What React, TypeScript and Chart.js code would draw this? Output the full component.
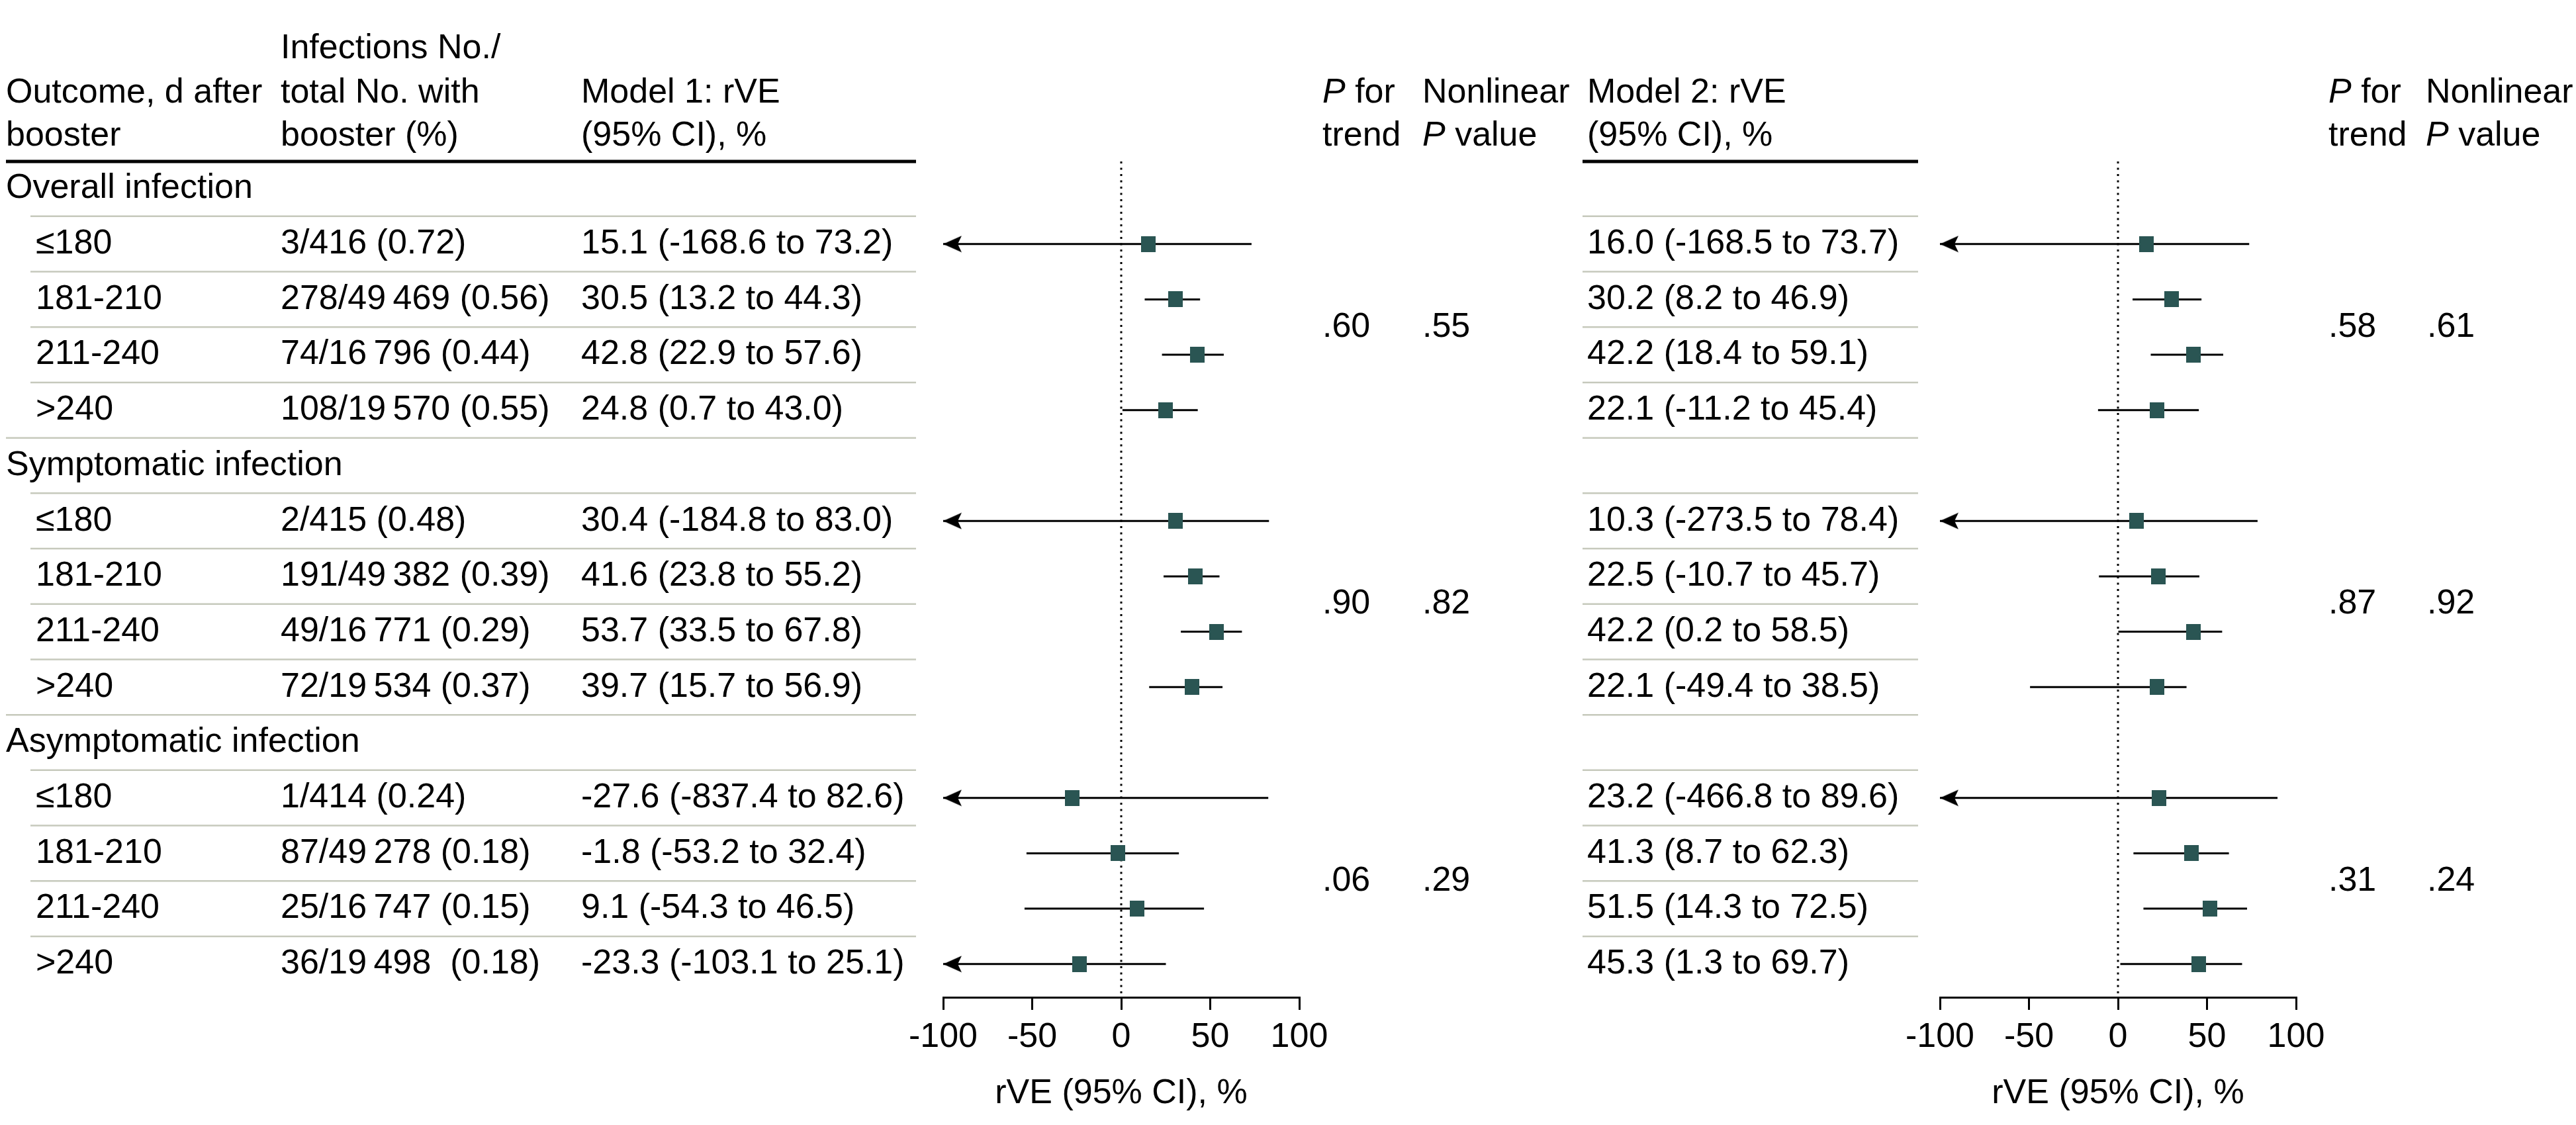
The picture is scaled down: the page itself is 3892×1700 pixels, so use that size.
import React, { useEffect, useRef } from 'react';
import { Chart, registerables } from 'chart.js';

Chart.register(...registerables);

// ---------------- data ----------------
const groups = ['Overall infection', 'Symptomatic infection', 'Asymptomatic infection'];
const periods = ['≤180', '181-210', '211-240', '>240'];
const infections = [
  '3/416 (0.72)', '278/49\u2009469 (0.56)', '74/16\u2009796 (0.44)', '108/19\u2009570 (0.55)',
  '2/415 (0.48)', '191/49\u2009382 (0.39)', '49/16\u2009771 (0.29)', '72/19\u2009534 (0.37)',
  '1/414 (0.24)', '87/49\u2009278 (0.18)', '25/16\u2009747 (0.15)', '36/19\u2009498  (0.18)',
];
const m1Est = [15.1, 30.5, 42.8, 24.8, 30.4, 41.6, 53.7, 39.7, -27.6, -1.8, 9.1, -23.3];
const m1Lo = [-168.6, 13.2, 22.9, 0.7, -184.8, 23.8, 33.5, 15.7, -837.4, -53.2, -54.3, -103.1];
const m1Hi = [73.2, 44.3, 57.6, 43.0, 83.0, 55.2, 67.8, 56.9, 82.6, 32.4, 46.5, 25.1];
const m2Est = [16.0, 30.2, 42.2, 22.1, 10.3, 22.5, 42.2, 22.1, 23.2, 41.3, 51.5, 45.3];
const m2Lo = [-168.5, 8.2, 18.4, -11.2, -273.5, -10.7, 0.2, -49.4, -466.8, 8.7, 14.3, 1.3];
const m2Hi = [73.7, 46.9, 59.1, 45.4, 78.4, 45.7, 58.5, 38.5, 89.6, 62.3, 72.5, 69.7];
const m1PTrend = ['.60', '.90', '.06'];
const m1PNonlin = ['.55', '.82', '.29'];
const m2PTrend = ['.58', '.87', '.31'];
const m2PNonlin = ['.61', '.92', '.24'];
const xTicks = [-100, -50, 0, 50, 100];
const axisTitle = 'rVE (95% CI), %';

// ---------------- layout / style ----------------
const W = 3892;
const H = 1700;
const FONT = '"Liberation Sans", Arial, sans-serif';
const FS = 52;
const MARKER = '#2a5553';
const SEP = '#c6c9bc';
const AXIS_MIN = -100;
const AXIS_MAX = 100;
const ROW_MIN = -0.49;
const ROW_MAX = 14.6;
const PLOT_TOP = 244;
const AXIS_BOX = 193;
const HEADER_Y = [74, 141, 206];

const rowIndex = (k: number) => Math.floor(k / 4) * 5 + 1 + (k % 4);
const fmt = (v: number) => v.toFixed(1);

function makeMarker() {
  const c = document.createElement('canvas');
  c.width = 22;
  c.height = 24;
  const g = c.getContext('2d')!;
  g.fillStyle = MARKER;
  g.fillRect(0, 0, 22, 24);
  return c;
}

function makeArrow() {
  const c = document.createElement('canvas');
  c.width = 62;
  c.height = 26;
  const g = c.getContext('2d')!;
  g.fillStyle = '#000';
  g.beginPath();
  g.moveTo(31, 13);
  g.lineTo(59, 0.5);
  g.lineTo(53, 13);
  g.lineTo(59, 25.5);
  g.closePath();
  g.fill();
  return c;
}

function buildDatasets(est: number[], lo: number[], hi: number[]) {
  const marker = makeMarker();
  const arrow = makeArrow();
  const ds: any[] = [];
  ds.push({
    data: [{ x: 0, y: ROW_MIN }, { x: 0, y: ROW_MAX }],
    showLine: true, borderColor: '#000', borderWidth: 3, borderDash: [3, 6.5],
    pointRadius: 0, order: 4, clip: false,
  });
  est.forEach((_, k) => {
    const r = rowIndex(k);
    ds.push({
      data: [{ x: Math.max(lo[k], AXIS_MIN), y: r }, { x: hi[k], y: r }],
      showLine: true, borderColor: '#000', borderWidth: 3, pointRadius: 0, order: 3, clip: false,
    });
  });
  ds.push({
    data: est.map((_, k) => ({ x: AXIS_MIN, y: rowIndex(k), lo: lo[k] })).filter((p) => p.lo < AXIS_MIN),
    showLine: false, pointStyle: arrow, pointRadius: 10, order: 2, clip: false,
  });
  ds.push({
    data: est.map((e, k) => ({ x: e, y: rowIndex(k) })),
    showLine: false, pointStyle: marker, pointRadius: 10, order: 1, clip: false,
  });
  return ds;
}

function setFont(ctx: CanvasRenderingContext2D, italic = false) {
  ctx.font = `${italic ? 'italic ' : ''}${FS}px ${FONT}`;
}

function drawRich(ctx: CanvasRenderingContext2D, parts: [string, boolean][], x: number, y: number) {
  let cx = x;
  for (const [t, it] of parts) {
    setFont(ctx, it);
    ctx.fillText(t, cx, y);
    cx += ctx.measureText(t).width;
  }
  setFont(ctx);
}

function hline(ctx: CanvasRenderingContext2D, x1: number, x2: number, y: number, w: number, color: string) {
  ctx.save();
  ctx.strokeStyle = color;
  ctx.lineWidth = w;
  ctx.beginPath();
  ctx.moveTo(x1, y);
  ctx.lineTo(x2, y);
  ctx.stroke();
  ctx.restore();
}

function drawPHeaders(ctx: CanvasRenderingContext2D, xp: number, xn: number) {
  drawRich(ctx, [['P', true], [' for', false]], xp, HEADER_Y[1]);
  drawRich(ctx, [['trend', false]], xp, HEADER_Y[2]);
  drawRich(ctx, [['Nonlinear', false]], xn, HEADER_Y[1]);
  drawRich(ctx, [['P', true], [' value', false]], xn, HEADER_Y[2]);
}

const tablePlugin1 = {
  id: 'table1',
  afterDraw(chart: any) {
    const ctx: CanvasRenderingContext2D = chart.ctx;
    const ys = chart.scales.y;
    const py = (v: number) => ys.getPixelForValue(v);
    ctx.save();
    ctx.fillStyle = '#000';
    ctx.textBaseline = 'middle';
    ctx.textAlign = 'left';
    setFont(ctx);
    ctx.fillText('Outcome, d after', 9, HEADER_Y[1]);
    ctx.fillText('booster', 9, HEADER_Y[2]);
    ctx.fillText('Infections No./', 424, HEADER_Y[0]);
    ctx.fillText('total No. with', 424, HEADER_Y[1]);
    ctx.fillText('booster (%)', 424, HEADER_Y[2]);
    ctx.fillText('Model 1: rVE', 878, HEADER_Y[1]);
    ctx.fillText('(95% CI), %', 878, HEADER_Y[2]);
    drawPHeaders(ctx, 1998, 2149);
    hline(ctx, 9, 1384, py(ROW_MIN), 5, '#000');
    for (let i = 1; i <= 14; i++) {
      const x1 = i % 5 === 0 ? 9 : 46;
      hline(ctx, x1, 1384, py(i - 0.5), 2.5, SEP);
    }
    groups.forEach((g, gi) => {
      ctx.fillText(g, 9, py(gi * 5));
      ctx.fillText(m1PTrend[gi], 1998, py(gi * 5 + 2.5));
      ctx.fillText(m1PNonlin[gi], 2149, py(gi * 5 + 2.5));
    });
    m1Est.forEach((e, k) => {
      const y = py(rowIndex(k));
      ctx.fillText(periods[k % 4], 54, y);
      ctx.fillText(infections[k], 424, y);
      ctx.fillText(`${fmt(e)} (${fmt(m1Lo[k])} to ${fmt(m1Hi[k])})`, 878, y);
    });
    ctx.restore();
  },
};

const tablePlugin2 = {
  id: 'table2',
  afterDraw(chart: any) {
    const ctx: CanvasRenderingContext2D = chart.ctx;
    const ys = chart.scales.y;
    const py = (v: number) => ys.getPixelForValue(v);
    ctx.save();
    ctx.fillStyle = '#000';
    ctx.textBaseline = 'middle';
    ctx.textAlign = 'left';
    setFont(ctx);
    ctx.fillText('Model 2: rVE', 2398, HEADER_Y[1]);
    ctx.fillText('(95% CI), %', 2398, HEADER_Y[2]);
    drawPHeaders(ctx, 3518, 3665);
    hline(ctx, 2391, 2898, py(ROW_MIN), 5, '#000');
    for (let i = 1; i <= 14; i++) hline(ctx, 2391, 2898, py(i - 0.5), 2.5, SEP);
    groups.forEach((_, gi) => {
      ctx.fillText(m2PTrend[gi], 3518, py(gi * 5 + 2.5));
      ctx.fillText(m2PNonlin[gi], 3667, py(gi * 5 + 2.5));
    });
    m2Est.forEach((e, k) => {
      ctx.fillText(`${fmt(e)} (${fmt(m2Lo[k])} to ${fmt(m2Hi[k])})`, 2398, py(rowIndex(k)));
    });
    ctx.restore();
  },
};

function makeConfig(est: number[], lo: number[], hi: number[], left: number, right: number, plugin: any): any {
  return {
    type: 'scatter',
    data: { datasets: buildDatasets(est, lo, hi) },
    plugins: [plugin],
    options: {
      responsive: false,
      animation: false,
      events: [],
      layout: { padding: { left, right: W - right, top: PLOT_TOP, bottom: 0 } },
      plugins: { legend: { display: false }, tooltip: { enabled: false } },
      scales: {
        x: {
          type: 'linear',
          position: 'bottom',
          min: AXIS_MIN,
          max: AXIS_MAX,
          afterFit: (s: any) => { s.height = AXIS_BOX; },
          afterBuildTicks: (s: any) => { s.ticks = xTicks.map((v) => ({ value: v })); },
          ticks: {
            font: { family: FONT, size: FS },
            color: '#000',
            padding: 10,
            autoSkip: false,
            maxRotation: 0,
            callback: (v: any) => String(v),
          },
          grid: { display: true, drawOnChartArea: false, drawTicks: true, tickLength: 19, color: '#000', lineWidth: 3 },
          border: { display: true, color: '#000', width: 3 },
          title: {
            display: true,
            text: axisTitle,
            font: { family: FONT, size: FS },
            color: '#000',
            padding: { top: 0, bottom: 16 },
          },
        },
        y: { type: 'linear', display: false, min: ROW_MIN, max: ROW_MAX, reverse: true },
      },
    },
  };
}

export default function App() {
  const c1 = useRef<HTMLCanvasElement>(null);
  const c2 = useRef<HTMLCanvasElement>(null);
  useEffect(() => {
    const ch1 = new Chart(c1.current!, makeConfig(m1Est, m1Lo, m1Hi, 1425, 1963, tablePlugin1));
    const ch2 = new Chart(c2.current!, makeConfig(m2Est, m2Lo, m2Hi, 2931, 3469, tablePlugin2));
    return () => { ch1.destroy(); ch2.destroy(); };
  }, []);
  const st: React.CSSProperties = { position: 'absolute', left: 0, top: 0, width: W, height: H };
  return (
    <div style={{ position: 'absolute', left: 0, top: 0, width: W, height: H, background: '#fff', overflow: 'hidden' }}>
      <canvas ref={c1} width={W} height={H} style={st} />
      <canvas ref={c2} width={W} height={H} style={st} />
    </div>
  );
}
